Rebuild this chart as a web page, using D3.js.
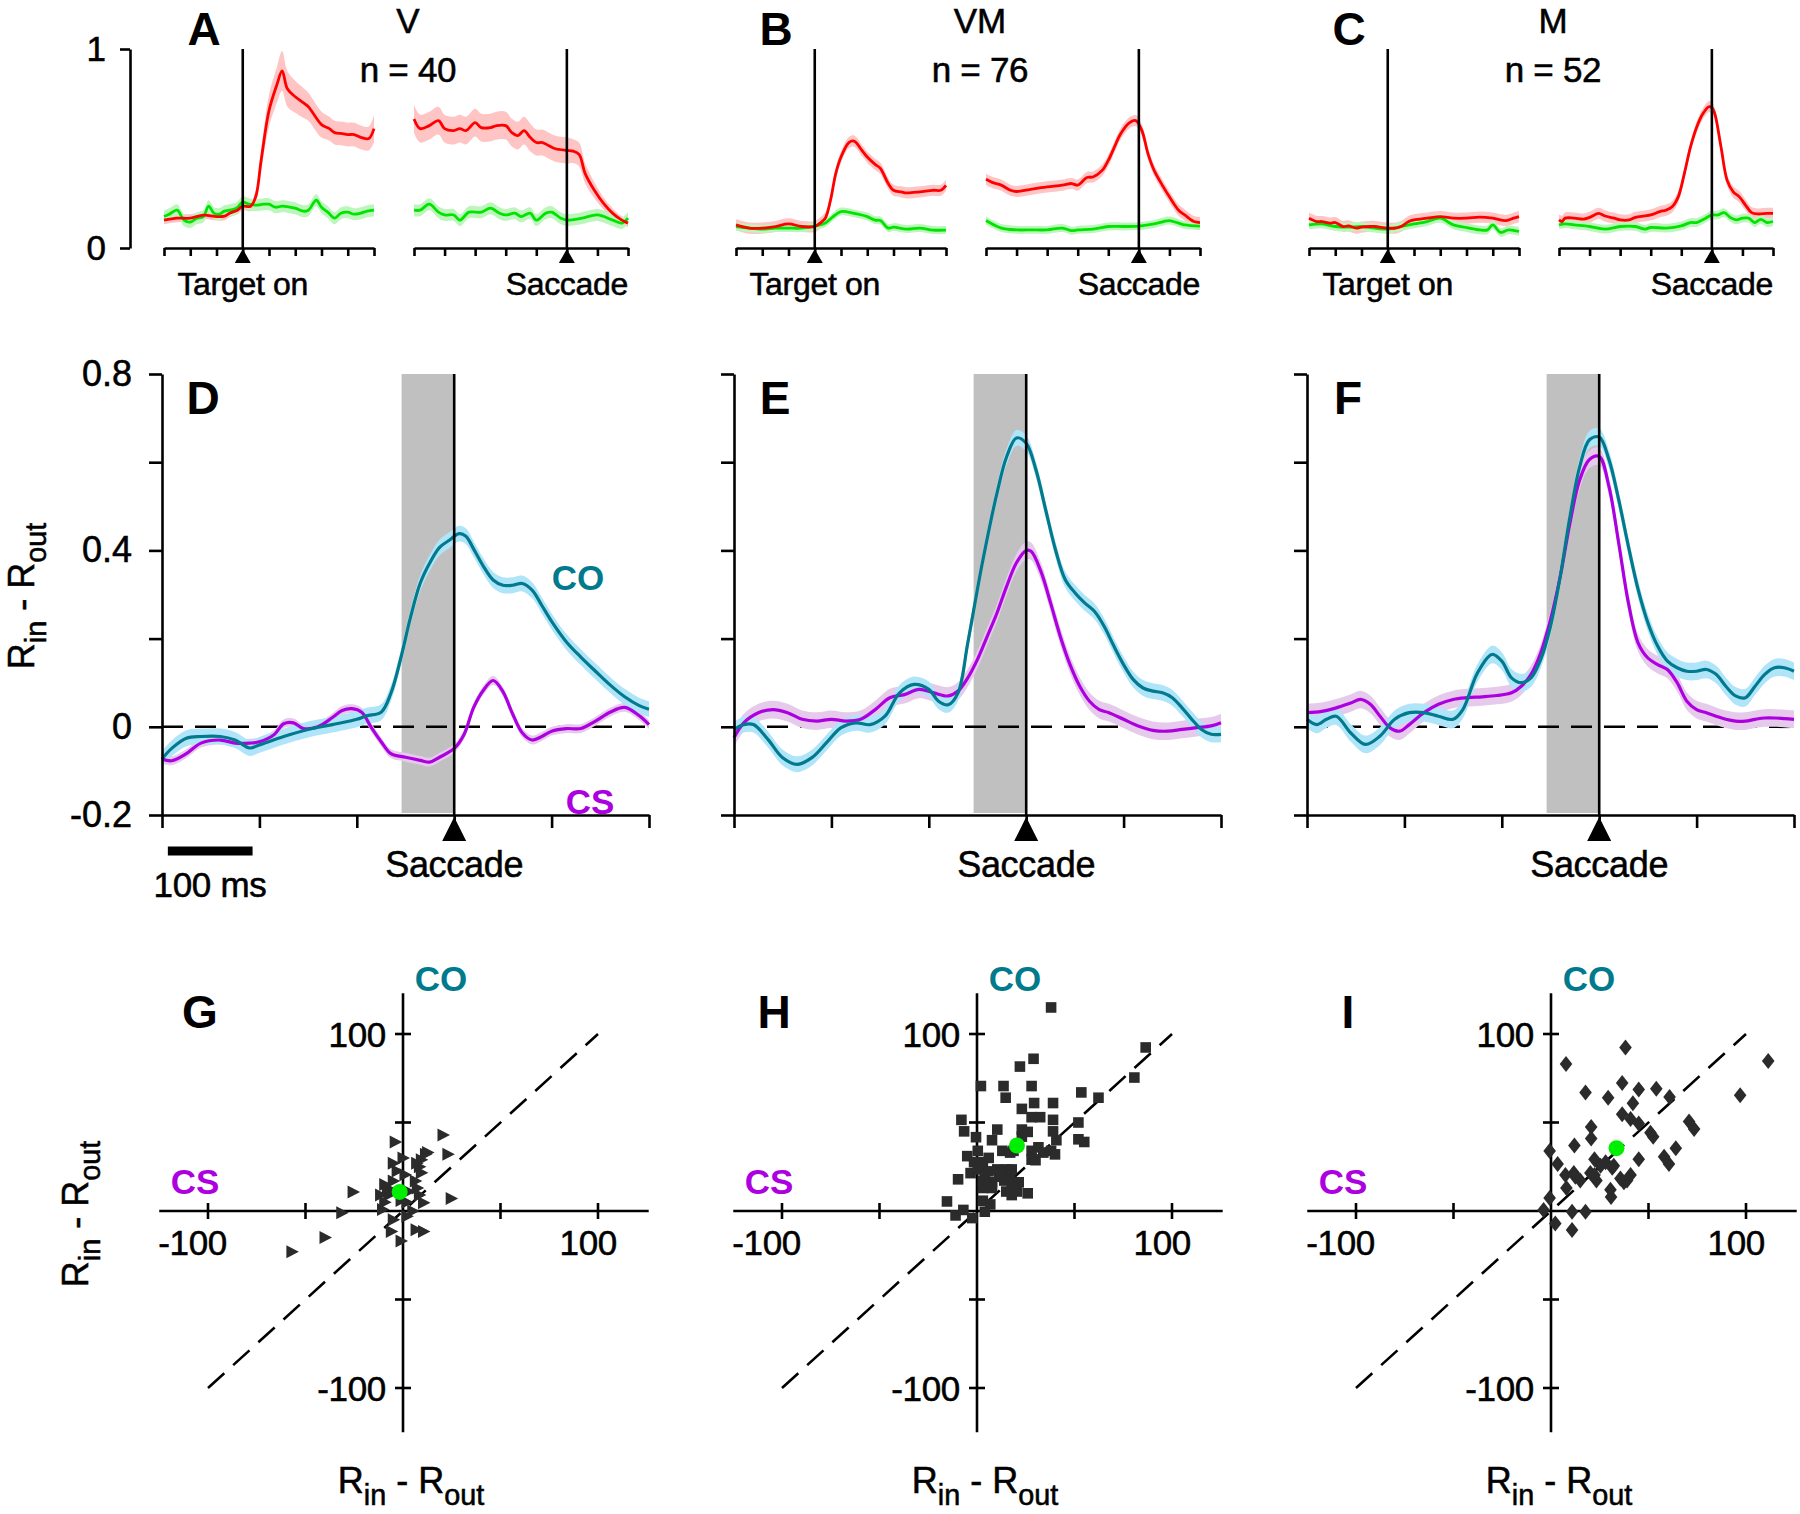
<!DOCTYPE html>
<html><head><meta charset="utf-8">
<script src="https://cdn.jsdelivr.net/npm/d3@7"></script>
<style>body{margin:0;background:#fff} text{font-family:"Liberation Sans",Arial,Helvetica,sans-serif}</style>
</head><body><script>
// ---------------- DATA ----------------
// Top row: normalized activity, [time(ms), value, sem?]
const tgtDomain = [-150, 250], tgtTicks = [-150,-100,-50,0,50,100,150,200,250];
const sacDomain = [-250, 100], sacTicks = [-250,-200,-150,-100,-50,0,50,100];
const topYTicks = [0, 1];

const A_tgt_red = [[-150,0.14,0.02],[-125,0.15,0.02],[-100,0.15,0.02],[-75,0.165,0.02],[-50,0.158,0.02],[-35,0.16,0.02],[-25,0.175,0.02],[-10,0.19,0.02],[0,0.21,0.02],[15,0.21,0.025],[25,0.26,0.03],[35,0.44,0.05],[50,0.69,0.08],[65,0.82,0.09],[75,0.89,0.1],[85,0.80,0.09],[100,0.76,0.08],[115,0.73,0.075],[125,0.71,0.07],[150,0.62,0.065],[165,0.6,0.06],[175,0.58,0.06],[190,0.575,0.06],[200,0.57,0.06],[212,0.57,0.06],[225,0.556,0.06],[240,0.55,0.06],[250,0.60,0.07]];
const A_tgt_green = [[-150,0.158],[-140,0.17],[-125,0.19],[-112,0.14],[-100,0.13],[-87,0.15],[-75,0.158],[-65,0.21],[-55,0.175],[-45,0.17],[-35,0.185],[-25,0.19],[-12,0.2],[0,0.23],[12,0.22],[25,0.215],[40,0.22],[50,0.22],[62,0.205],[75,0.21],[90,0.205],[100,0.2],[115,0.185],[125,0.19],[140,0.24],[150,0.205],[162,0.18],[175,0.15],[187,0.175],[200,0.18],[212,0.17],[225,0.175],[237,0.185],[250,0.19]];
const A_sac_red = [[-250,0.648,0.07],[-240,0.60,0.07],[-225,0.615,0.07],[-210,0.64,0.07],[-200,0.60,0.07],[-185,0.59,0.07],[-175,0.60,0.07],[-165,0.59,0.07],[-150,0.63,0.07],[-140,0.605,0.07],[-125,0.605,0.07],[-115,0.615,0.07],[-100,0.615,0.07],[-90,0.58,0.07],[-80,0.565,0.07],[-70,0.59,0.07],[-60,0.556,0.07],[-50,0.53,0.065],[-40,0.53,0.065],[-30,0.515,0.065],[-20,0.50,0.065],[0,0.49,0.065],[10,0.487,0.06],[20,0.47,0.06],[30,0.374,0.05],[45,0.29,0.04],[60,0.224,0.03],[75,0.174,0.025],[90,0.14,0.02],[100,0.125,0.02]];
const A_sac_green = [[-250,0.19],[-240,0.19],[-225,0.22],[-210,0.18],[-200,0.166],[-185,0.166],[-175,0.14],[-160,0.18],[-140,0.18],[-125,0.2],[-110,0.175],[-100,0.166],[-85,0.175],[-75,0.158],[-60,0.175],[-50,0.14],[-35,0.174],[-25,0.18],[-10,0.15],[0,0.14],[25,0.15],[50,0.166],[75,0.14],[90,0.125],[100,0.15]];

const B_tgt_red = [[-150,0.116],[-125,0.1],[-100,0.1],[-75,0.108],[-50,0.121],[-25,0.108],[0,0.108],[10,0.125],[20,0.15],[30,0.24],[40,0.374],[50,0.457],[65,0.53],[75,0.537],[90,0.49],[100,0.457],[115,0.42],[125,0.4],[140,0.324],[150,0.29],[165,0.282],[175,0.277],[200,0.282],[225,0.29],[240,0.29],[250,0.315]];
const B_tgt_green = [[-150,0.108],[-125,0.1],[-100,0.095],[-75,0.1],[-50,0.1],[-25,0.1],[0,0.11],[20,0.125],[35,0.158],[50,0.183],[75,0.174],[100,0.158],[115,0.14],[125,0.138],[140,0.1],[150,0.105],[175,0.095],[200,0.1],[225,0.09],[250,0.09]];
const B_sac_red = [[-250,0.345],[-240,0.33],[-225,0.316],[-210,0.29],[-200,0.284],[-175,0.296],[-150,0.307],[-125,0.316],[-110,0.324],[-100,0.316],[-85,0.354],[-75,0.357],[-60,0.39],[-50,0.44],[-40,0.507],[-30,0.573],[-15,0.63],[-5,0.64],[5,0.59],[15,0.473],[25,0.39],[40,0.307],[50,0.257],[65,0.19],[75,0.166],[90,0.133],[100,0.128]];
const B_sac_green = [[-250,0.138],[-225,0.1],[-200,0.091],[-175,0.091],[-150,0.091],[-125,0.1],[-110,0.087],[-100,0.091],[-75,0.095],[-50,0.108],[-25,0.108],[0,0.11],[25,0.121],[40,0.133],[50,0.138],[65,0.125],[75,0.116],[100,0.11]];

const C_tgt_red = [[-150,0.15],[-135,0.133],[-125,0.133],[-110,0.125],[-100,0.128],[-85,0.108],[-75,0.111],[-60,0.1],[-50,0.105],[-35,0.108],[-25,0.108],[0,0.1],[15,0.1],[25,0.108],[40,0.133],[50,0.141],[75,0.15],[100,0.158],[125,0.15],[150,0.15],[175,0.155],[200,0.15],[225,0.138],[240,0.15],[250,0.158]];
const C_tgt_green = [[-150,0.116],[-125,0.121],[-100,0.108],[-75,0.105],[-50,0.108],[-25,0.1],[0,0.095],[25,0.108],[50,0.121],[75,0.133],[100,0.15],[125,0.116],[150,0.103],[175,0.091],[190,0.091],[200,0.116],[215,0.078],[230,0.091],[250,0.083]];
const C_sac_red = [[-250,0.141],[-245,0.133],[-240,0.15],[-225,0.15],[-210,0.145],[-200,0.154],[-185,0.174],[-175,0.161],[-160,0.15],[-150,0.141],[-135,0.141],[-125,0.154],[-110,0.161],[-100,0.166],[-85,0.183],[-75,0.19],[-65,0.207],[-55,0.257],[-45,0.374],[-35,0.507],[-25,0.606],[-15,0.673],[-5,0.71],[0,0.706],[5,0.673],[15,0.507],[25,0.34],[35,0.282],[45,0.257],[55,0.216],[65,0.178],[75,0.171],[90,0.174],[100,0.174]];
const C_sac_green = [[-250,0.116],[-240,0.121],[-225,0.116],[-200,0.108],[-175,0.095],[-150,0.108],[-125,0.108],[-110,0.095],[-100,0.103],[-75,0.1],[-50,0.111],[-35,0.128],[-25,0.128],[-10,0.15],[0,0.166],[10,0.166],[20,0.178],[30,0.154],[40,0.141],[50,0.15],[60,0.15],[70,0.128],[80,0.144],[90,0.128],[100,0.133]];

// Middle row: Rin - Rout, [time(ms), value]
const midDomain = [-300, 200], midXTicks = [-300,-200,-100,0,100,200];
const midYDomain = [-0.2, 0.8], midYTicks = [-0.2,0,0.2,0.4,0.6,0.8], midYLabels = [-0.2,0,0.4,0.8];
const greyWindow = [-54, 0];
const scaleBarMs = [-294, -207];

const D_CO = [[-300,-0.073],[-290,-0.049],[-275,-0.026],[-260,-0.022],[-240,-0.022],[-225,-0.03],[-210,-0.048],[-200,-0.041],[-175,-0.022],[-150,-0.006],[-125,0.005],[-100,0.017],[-90,0.025],[-75,0.033],[-65,0.076],[-55,0.154],[-45,0.247],[-35,0.325],[-25,0.372],[-15,0.407],[-5,0.423],[5,0.438],[12,0.432],[20,0.403],[30,0.364],[40,0.333],[50,0.321],[60,0.321],[70,0.325],[80,0.31],[90,0.275],[100,0.239],[115,0.193],[130,0.158],[145,0.126],[160,0.095],[175,0.068],[190,0.048],[200,0.04]];
const D_CS = [[-300,-0.073],[-290,-0.077],[-275,-0.061],[-260,-0.037],[-240,-0.03],[-225,-0.037],[-210,-0.037],[-200,-0.034],[-185,-0.018],[-175,0.007],[-165,0.009],[-155,-0.004],[-140,0.0],[-125,0.021],[-115,0.037],[-105,0.041],[-95,0.033],[-85,-0.002],[-75,-0.034],[-65,-0.061],[-50,-0.069],[-35,-0.076],[-25,-0.08],[-15,-0.069],[0,-0.049],[10,-0.018],[20,0.044],[30,0.083],[40,0.105],[50,0.08],[60,0.029],[70,-0.014],[80,-0.03],[90,-0.022],[100,-0.01],[115,-0.004],[130,-0.004],[145,0.013],[160,0.033],[175,0.044],[190,0.025],[200,0.005]];
const E_CO = [[-300,-0.006],[-290,0.005],[-280,0.005],[-265,-0.029],[-250,-0.07],[-235,-0.085],[-220,-0.07],[-205,-0.036],[-190,-0.002],[-175,0.009],[-160,0.005],[-145,0.024],[-130,0.077],[-115,0.096],[-100,0.085],[-90,0.058],[-80,0.05],[-70,0.077],[-60,0.19],[-45,0.372],[-30,0.53],[-20,0.613],[-10,0.655],[0,0.643],[10,0.583],[20,0.492],[30,0.402],[40,0.334],[50,0.304],[60,0.281],[70,0.262],[80,0.228],[90,0.183],[100,0.141],[110,0.107],[120,0.088],[130,0.081],[140,0.077],[150,0.066],[160,0.043],[170,0.017],[180,-0.006],[190,-0.017],[200,-0.017]];
const E_CS = [[-300,-0.025],[-290,0.009],[-275,0.032],[-260,0.039],[-245,0.032],[-230,0.017],[-215,0.013],[-200,0.017],[-185,0.013],[-170,0.017],[-155,0.039],[-140,0.066],[-125,0.073],[-110,0.085],[-95,0.077],[-80,0.07],[-70,0.081],[-60,0.111],[-50,0.153],[-40,0.205],[-30,0.258],[-20,0.319],[-10,0.372],[0,0.4],[5,0.398],[15,0.353],[25,0.281],[35,0.205],[45,0.141],[55,0.092],[65,0.058],[75,0.039],[85,0.032],[100,0.017],[115,0.002],[130,-0.008],[145,-0.01],[160,-0.006],[175,-0.002],[190,0.002],[200,0.009]];
const F_CO = [[-300,0.017],[-290,0.005],[-280,0.017],[-270,0.024],[-255,-0.014],[-240,-0.04],[-225,-0.021],[-210,0.017],[-195,0.032],[-180,0.032],[-165,0.024],[-150,0.017],[-140,0.039],[-125,0.122],[-110,0.164],[-100,0.149],[-90,0.111],[-80,0.1],[-70,0.111],[-60,0.153],[-50,0.228],[-40,0.341],[-30,0.477],[-20,0.59],[-10,0.651],[0,0.657],[10,0.606],[20,0.515],[30,0.409],[40,0.311],[50,0.236],[60,0.183],[70,0.149],[80,0.134],[90,0.126],[100,0.126],[110,0.13],[120,0.119],[130,0.092],[140,0.07],[150,0.066],[160,0.092],[170,0.119],[180,0.134],[190,0.134],[200,0.126]];
const F_CS = [[-300,0.032],[-285,0.035],[-270,0.043],[-255,0.054],[-245,0.062],[-235,0.051],[-225,0.024],[-215,-0.002],[-205,-0.01],[-195,0.005],[-180,0.032],[-165,0.051],[-150,0.062],[-135,0.066],[-120,0.068],[-105,0.071],[-90,0.077],[-80,0.092],[-70,0.119],[-60,0.168],[-50,0.243],[-40,0.341],[-30,0.462],[-20,0.56],[-10,0.606],[0,0.613],[10,0.545],[20,0.417],[30,0.281],[40,0.19],[50,0.156],[60,0.141],[70,0.13],[80,0.1],[90,0.058],[100,0.039],[110,0.032],[120,0.024],[130,0.017],[140,0.013],[150,0.013],[160,0.017],[170,0.02],[180,0.02],[200,0.017]];

// Bottom row: [CS (x), CO (y)]
const scatTicks = [-100,-50,50,100], scatLabels = [-100,100];
const G_pts = [[20.5,43],[-4,39],[23,32],[12.6,33],[0,30],[-5,27],[9.4,29],[8.4,25],[9.4,21.6],[-25.6,10.8],[-9.4,15],[-5,17],[6.3,17],[7.3,13],[10.5,4.6],[24.7,7],[-7.3,9],[-9.4,5],[-10.5,0.8],[2,5],[5,0],[-31.4,-1],[-40,-15],[-57,-23],[-6,-11.6],[-1,-17],[6.7,-10.6],[10.5,-11.6],[-6,11],[3,11],[-3,22.6],[-1,6],[-8,13],[8.4,9],[-5,-5],[2,-3],[11.5,32],[7,27],[-11.5,9],[1,20.5]];
const H_pts = [[38,115],[86.5,92.4],[29,86],[22,81.6],[2,70.6],[13.6,70.6],[28,70.6],[14.7,64],[80.7,75.4],[53.5,67],[62.3,64],[29.3,61],[39,61],[23,57.7],[28,53],[32.4,53],[39,51.5],[52,50],[-8,51.5],[-6.6,45],[10.4,46],[26,44.7],[39,45],[-0.5,41.7],[7.7,40],[40.7,40],[52,40.5],[55,39],[23,42],[0.4,34],[13,34],[17,33],[28,34],[31.5,36],[34,33],[38,34],[28,29],[-5,31],[-1.5,27.6],[3,27.6],[-3.3,21.4],[1.3,23.5],[5.9,22.4],[10.4,23.5],[15,23.5],[4,19.3],[12.3,19.3],[17,21.4],[-9.7,17.9],[7.7,16.2],[14,17.2],[17.8,16.2],[21.4,16.2],[3,13],[7.7,13],[18.7,13],[26,10],[17.8,9],[-15.4,5.4],[-7,0.6],[-11,-2.5],[-2.4,-4],[4,-0.4],[6.8,3.7],[3,5.8],[20.5,11],[0.4,25.5],[11.4,21.4],[23,46],[40,32],[30,28.7],[6,30],[17.8,23.5],[15,11],[18.7,34],[3,17]];
const I_pts = [[38.2,92.4],[7.7,83],[111.4,84.7],[17.7,67],[29.3,64],[36.5,72.3],[45,68.7],[54,69],[60.8,64.4],[97,65.4],[42,60.9],[36.5,54.6],[40.8,52],[45,49.4],[70.8,50.5],[73.4,46.3],[20.6,47.4],[20.6,41],[51,44.2],[52.4,42],[-0.7,33.9],[12,37],[64,35.5],[58,30.7],[60.5,26.6],[3.4,26.6],[22.3,29.3],[28,27.6],[45,29.3],[31.4,24.5],[7.4,20.4],[11.7,21.4],[15,17.2],[20.2,21.4],[23.3,17.2],[40.8,20.4],[39,17.2],[7.9,13],[30.5,12],[30.8,7.9],[-0.7,7.3],[-3.8,0.6],[10.8,-0.4],[17.7,-0.4],[2.2,-7],[10.8,-10.8],[37.4,16.2],[25.4,25.5],[12.5,19.3],[32.2,25.5],[35.6,18.3],[22.3,20.4]];
const G_mean = [-1.7, 10.8], H_mean = [20.5, 37], I_mean = [33.6, 35.5];

// ---------------- STYLE ----------------
const RED='#ff0000', RED_B='#ffc4c4', GRN='#00e400', GRN_B='#bdf5bd';
const TEAL='#007a8c', TEAL_B='#b0e4f9', PURP='#ad00e0', PURP_B='#e6caeb';
const GREY='#c0c0c0', MARK='#2b2b2b', MEAN='#00ee00';
const AX = 2.6;
const FONT = '"Liberation Sans",Arial,Helvetica,sans-serif';
const TSTROKE = 0.55;

const svg = d3.select('body').append('svg').attr('width',1800).attr('height',1514).style('display','block');
svg.append('rect').attr('width',1800).attr('height',1514).attr('fill','#fff');

function styleAxis(g, fs){
  g.attr('font-family', FONT).attr('font-size', fs);
  g.selectAll('.domain').attr('stroke','#000').attr('stroke-width',AX);
  g.selectAll('.tick line').attr('stroke','#000').attr('stroke-width',AX);
  g.selectAll('.tick text').attr('fill','#000').attr('stroke','#000').attr('stroke-width',TSTROKE);
}
function txt(g, x, y, s, o={}){
  const t = g.append('text').attr('x',x).attr('y',y).text(s)
    .attr('text-anchor', o.anchor||'middle').attr('font-size', o.size||33)
    .attr('font-weight', o.bold?'bold':'normal').attr('fill', o.fill||'#000');
  if (!o.bold) t.attr('stroke', o.fill||'#000').attr('stroke-width', TSTROKE);
  if (o.ls) t.attr('letter-spacing', o.ls);
  return t;
}
function rinRout(g, x, y, rot, size){
  const t = g.append('text').attr('transform',`translate(${x},${y}) rotate(${rot})`)
    .attr('text-anchor','middle').attr('font-size',size).attr('fill','#000')
    .attr('stroke','#000').attr('stroke-width',TSTROKE);
  t.append('tspan').text('R');
  t.append('tspan').attr('font-size',size*0.8).attr('dy',size*0.32).text('in');
  t.append('tspan').attr('dy',-size*0.32).text(' - R');
  t.append('tspan').attr('font-size',size*0.8).attr('dy',size*0.32).text('out');
}
function trace(g, data, x, y, col, bandCol, sem, lw){
  const curve = d3.curveCatmullRom.alpha(0.5);
  const area = d3.area().x(d=>x(d[0])).y0(d=>y(d[1]-(d[2]??sem))).y1(d=>y(d[1]+(d[2]??sem))).curve(curve);
  const line = d3.line().x(d=>x(d[0])).y(d=>y(d[1])).curve(curve);
  return {
    band: () => g.append('path').attr('d',area(data)).attr('fill',bandCol).attr('stroke','none'),
    line: () => g.append('path').attr('d',line(data)).attr('fill','none').attr('stroke',col).attr('stroke-width',lw).attr('stroke-linejoin','round')
  };
}

// ---------------- TOP ROW ----------------
const yT = d3.scaleLinear([0,1],[248,49]);
const topPanels = [
  {x0:164, letter:'A', title:'V', n:'n = 40', tr:A_tgt_red, tg:A_tgt_green, sr:A_sac_red, sg:A_sac_green, semR:0.06, semG:0.03},
  {x0:736, letter:'B', title:'VM', n:'n = 76', tr:B_tgt_red, tg:B_tgt_green, sr:B_sac_red, sg:B_sac_green, semR:0.028, semG:0.02},
  {x0:1309, letter:'C', title:'M', n:'n = 52', tr:C_tgt_red, tg:C_tgt_green, sr:C_sac_red, sg:C_sac_green, semR:0.028, semG:0.022}
];
topPanels.forEach((p,i)=>{
  const g = svg.append('g');
  const xL = d3.scaleLinear(tgtDomain,[p.x0, p.x0+210]);
  const xR = d3.scaleLinear(sacDomain,[p.x0+250, p.x0+464]);
  const parts = [
    [trace(g,p.tr,xL,yT,RED,RED_B,p.semR,2.8), trace(g,p.tg,xL,yT,GRN,GRN_B,p.semG,2.8)],
    [trace(g,p.sr,xR,yT,RED,RED_B,p.semR,2.8), trace(g,p.sg,xR,yT,GRN,GRN_B,p.semG,2.8)]
  ];
  parts.forEach(([r,gr])=>{ r.band(); gr.band(); gr.line(); r.line(); });
  [[xL,tgtTicks,'Target on'],[xR,sacTicks,'Saccade']].forEach(([x,ticks,lab])=>{
    const ax = g.append('g').attr('transform',`translate(0,${yT(0)})`)
      .call(d3.axisBottom(x).tickValues(ticks).tickSize(8).tickSizeOuter(0).tickFormat(''));
    styleAxis(ax, 31);
    g.append('line').attr('x1',x(0)).attr('x2',x(0)).attr('y1',yT(1)).attr('y2',yT(0)).attr('stroke','#000').attr('stroke-width',AX);
    g.append('path').attr('d',`M${x(0)-8},${yT(0)+15}L${x(0)+8},${yT(0)+15}L${x(0)},${yT(0)+1}Z`).attr('fill','#000');
    txt(g, x(0), 295, lab, {size:32, ls:-0.3});
  });
  txt(g, p.x0+40, 45, p.letter, {size:46, bold:true});
  txt(g, p.x0+244, 33, p.title, {size:35});
  txt(g, p.x0+244, 82, p.n, {size:35, ls:-0.3});
  if (i===0){
    const ay = g.append('g').attr('transform','translate(130,0)')
      .call(d3.axisLeft(yT).tickValues(topYTicks).tickSize(10).tickSizeOuter(0).tickPadding(14).tickFormat(d3.format('d')));
    styleAxis(ay, 35);
  }
});

// ---------------- MIDDLE ROW ----------------
const yM = d3.scaleLinear(midYDomain,[815,374]);
const midPanels = [
  {x0:162, letter:'D', co:D_CO, cs:D_CS, semCO:0.018, semCS:0.01},
  {x0:734, letter:'E', co:E_CO, cs:E_CS, semCO:0.018, semCS:0.02},
  {x0:1307, letter:'F', co:F_CO, cs:F_CS, semCO:0.02, semCS:0.02}
];
midPanels.forEach((p,i)=>{
  const g = svg.append('g');
  const x = d3.scaleLinear(midDomain,[p.x0, p.x0+487]);
  g.append('rect').attr('x',x(greyWindow[0])).attr('y',yM(0.8)).attr('width',x(greyWindow[1])-x(greyWindow[0])).attr('height',yM(-0.2)-yM(0.8)-2).attr('fill',GREY);
  g.append('line').attr('x1',x(midDomain[0])).attr('x2',x(midDomain[1])).attr('y1',yM(0)).attr('y2',yM(0))
    .attr('stroke','#000').attr('stroke-width',AX).attr('stroke-dasharray','21,12');
  const cs = trace(g,p.cs,x,yM,PURP,PURP_B,p.semCS,3.2);
  const co = trace(g,p.co,x,yM,TEAL,TEAL_B,p.semCO,3.2);
  cs.band(); co.band(); cs.line(); co.line();
  g.append('line').attr('x1',x(0)).attr('x2',x(0)).attr('y1',yM(0.8)).attr('y2',yM(-0.2)).attr('stroke','#000').attr('stroke-width',AX);
  const ax = g.append('g').attr('transform',`translate(0,${yM(-0.2)})`)
    .call(d3.axisBottom(x).tickValues(midXTicks).tickSize(13).tickSizeOuter(0).tickFormat(''));
  styleAxis(ax, 35);
  const ay = g.append('g').attr('transform',`translate(${p.x0},0)`)
    .call(d3.axisLeft(yM).tickValues(midYTicks).tickSize(13).tickSizeOuter(0).tickPadding(17)
      .tickFormat(v => (i===0 && midYLabels.some(l=>Math.abs(l-v)<1e-9)) ? (Math.abs(v)<1e-9 ? '0' : String(+v.toFixed(1))) : ''));
  styleAxis(ay, 36);
  g.append('path').attr('d',`M${x(0)-12},${yM(-0.2)+26}L${x(0)+12},${yM(-0.2)+26}L${x(0)},${yM(-0.2)+2}Z`).attr('fill','#000');
  txt(g, x(0), 877, 'Saccade', {size:36, ls:-0.3});
  txt(g, p.x0+41, 414, p.letter, {size:46, bold:true});
  if (i===0){
    txt(g, p.x0+416, 590, 'CO', {size:35, bold:true, fill:TEAL});
    txt(g, p.x0+428, 814, 'CS', {size:35, bold:true, fill:PURP});
    g.append('line').attr('x1',x(scaleBarMs[0])).attr('x2',x(scaleBarMs[1])).attr('y1',851).attr('y2',851).attr('stroke','#000').attr('stroke-width',9);
    txt(g, 210, 897, '100 ms', {size:35, ls:-0.3});
    rinRout(g, 34, 596, -90, 36);
  }
});

// ---------------- BOTTOM ROW ----------------
const yS = d3.scaleLinear([-100,100],[1388,1034]);
const markers = {
  tri: 'M-5.5,-6.5L7,0L-5.5,6.5Z',
  sq: 'M-5.3,-5.3h10.6v10.6h-10.6Z',
  dia: 'M0,-8L6.3,0L0,8L-6.3,0Z'
};
const botPanels = [
  {xc:403, letter:'G', pts:G_pts, mean:G_mean, mk:markers.tri},
  {xc:977, letter:'H', pts:H_pts, mean:H_mean, mk:markers.sq},
  {xc:1551, letter:'I', pts:I_pts, mean:I_mean, mk:markers.dia}
];
botPanels.forEach((p,i)=>{
  const g = svg.append('g');
  const x = d3.scaleLinear([-100,100],[p.xc-195, p.xc+195]);
  const y0 = yS(0), x0 = x(0);
  g.append('line').attr('x1',x(-125)).attr('x2',x(126)).attr('y1',y0).attr('y2',y0).attr('stroke','#000').attr('stroke-width',AX);
  g.append('line').attr('x1',x0).attr('x2',x0).attr('y1',yS(123)).attr('y2',yS(-125)).attr('stroke','#000').attr('stroke-width',AX);
  scatTicks.forEach(v=>{
    g.append('line').attr('x1',x(v)).attr('x2',x(v)).attr('y1',y0-8).attr('y2',y0+8).attr('stroke','#000').attr('stroke-width',AX);
    g.append('line').attr('x1',x0-8).attr('x2',x0+8).attr('y1',yS(v)).attr('y2',yS(v)).attr('stroke','#000').attr('stroke-width',AX);
  });
  scatLabels.forEach(v=>{
    txt(g, x(v)+19, y0+44, String(v), {size:35, anchor:'end', ls:-0.3});
    txt(g, x0-17, yS(v)+13, String(v), {size:35, anchor:'end', ls:-0.3});
  });
  g.append('line').attr('x1',x(-100)).attr('y1',yS(-100)).attr('x2',x(100)).attr('y2',yS(100))
    .attr('stroke','#000').attr('stroke-width',2.6).attr('stroke-dasharray','22,12');
  g.selectAll('path.pt').data(p.pts).enter().append('path').attr('class','pt')
    .attr('d',p.mk).attr('transform',d=>`translate(${x(d[0])},${yS(d[1])})`).attr('fill',MARK);
  g.append('circle').attr('cx',x(p.mean[0])).attr('cy',yS(p.mean[1])).attr('r',8).attr('fill',MEAN);
  txt(g, p.xc+38, 991, 'CO', {size:35, bold:true, fill:TEAL});
  txt(g, p.xc-208, 1194, 'CS', {size:35, bold:true, fill:PURP});
  txt(g, p.xc-203, 1028, p.letter, {size:46, bold:true});
  rinRout(g, p.xc+8, 1493, 0, 36);
  if (i===0) rinRout(g, 88, 1214, -90, 36);
});
</script></body></html>
